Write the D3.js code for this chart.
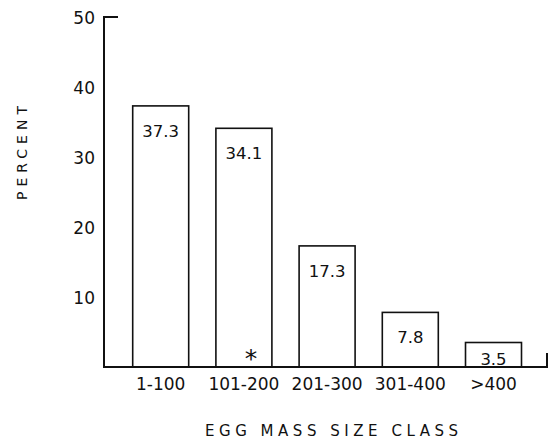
<!DOCTYPE html>
<html>
<head>
<meta charset="utf-8">
<script src="https://cdn.jsdelivr.net/npm/d3@7"></script>
<style>
  html, body { margin: 0; padding: 0; background: #fff; }
  svg { display: block; }
  text { font-family: "DejaVu Sans", sans-serif; fill: #111; }
</style>
</head>
<body>
<svg id="chart" width="548" height="441"></svg>
<script>
// Egg mass size classes and the percentage of egg masses in each
const categories = ["1-100", "101-200", "201-300", "301-400", ">400"];
const percents = [37.3, 34.1, 17.3, 7.8, 3.5];
const yTicks = [10, 20, 30, 40, 50];
const markedClass = "101-200";   // class flagged with an asterisk

const svg = d3.select("#chart");
const ink = "#111";

const x = d3.scaleBand()
  .domain(categories)
  .range([132.7, 521.5])
  .paddingInner(0.327)
  .paddingOuter(0);

const y = d3.scaleLinear().domain([0, 50]).range([367, 17]);

// Axis frame: left spine with a short cap at the top, baseline with an end tick
const frame = svg.append("g").attr("stroke", ink).attr("fill", "none");
frame.append("path")
  .attr("d", `M118,${y(50)} H104 V${y(0)} H547 V${y(0) - 14}`)
  .attr("stroke-width", 2);

// Y tick labels (no tick marks)
const yAxis = svg.append("g")
  .attr("transform", "translate(104,0)")
  .call(d3.axisLeft(y).tickValues(yTicks).tickSize(0).tickPadding(9));
yAxis.select(".domain").remove();
yAxis.selectAll("text")
  .attr("font-family", "DejaVu Sans, sans-serif")
  .attr("font-size", 17)
  .attr("fill", ink)
  .attr("dy", "0.36em");

// X tick labels under each bar
const xAxis = svg.append("g")
  .attr("transform", `translate(0,${y(0)})`)
  .call(d3.axisBottom(x).tickSize(0).tickPadding(0));
xAxis.select(".domain").remove();
xAxis.selectAll("text")
  .attr("font-family", "DejaVu Sans, sans-serif")
  .attr("font-size", 17)
  .attr("fill", ink)
  .attr("y", 17)
  .attr("dy", "0.36em");

// Bars: open rectangles
svg.append("g")
  .selectAll("rect")
  .data(categories)
  .join("rect")
  .attr("x", d => x(d))
  .attr("y", (d, i) => y(percents[i]))
  .attr("width", x.bandwidth())
  .attr("height", (d, i) => y(0) - y(percents[i]))
  .attr("fill", "none")
  .attr("stroke", ink)
  .attr("stroke-width", 1.6);

// Value labels inside the bars
svg.append("g")
  .selectAll("text")
  .data(categories)
  .join("text")
  .attr("x", d => x(d) + x.bandwidth() / 2)
  .attr("y", (d, i) => Math.min(y(percents[i]) + 31, y(0) - 2))
  .attr("text-anchor", "middle")
  .attr("font-size", 16.5)
  .text((d, i) => percents[i].toFixed(1));

// Asterisk marker
svg.append("text")
  .attr("x", x(markedClass) + x.bandwidth() / 2 + 7)
  .attr("y", y(0) + 0)
  .attr("text-anchor", "middle")
  .attr("font-size", 25)
  .text("*");

// Axis titles
svg.append("text")
  .attr("x", 331.5)
  .attr("y", 436)
  .attr("text-anchor", "middle")
  .attr("font-size", 15)
  .attr("textLength", 253)
  .attr("lengthAdjust", "spacing")
  .text("EGG MASS SIZE CLASS");

svg.append("text")
  .attr("transform", "translate(27,153) rotate(-90)")
  .attr("text-anchor", "middle")
  .attr("font-size", 14)
  .attr("textLength", 94)
  .attr("lengthAdjust", "spacing")
  .text("PERCENT");
</script>
</body>
</html>
